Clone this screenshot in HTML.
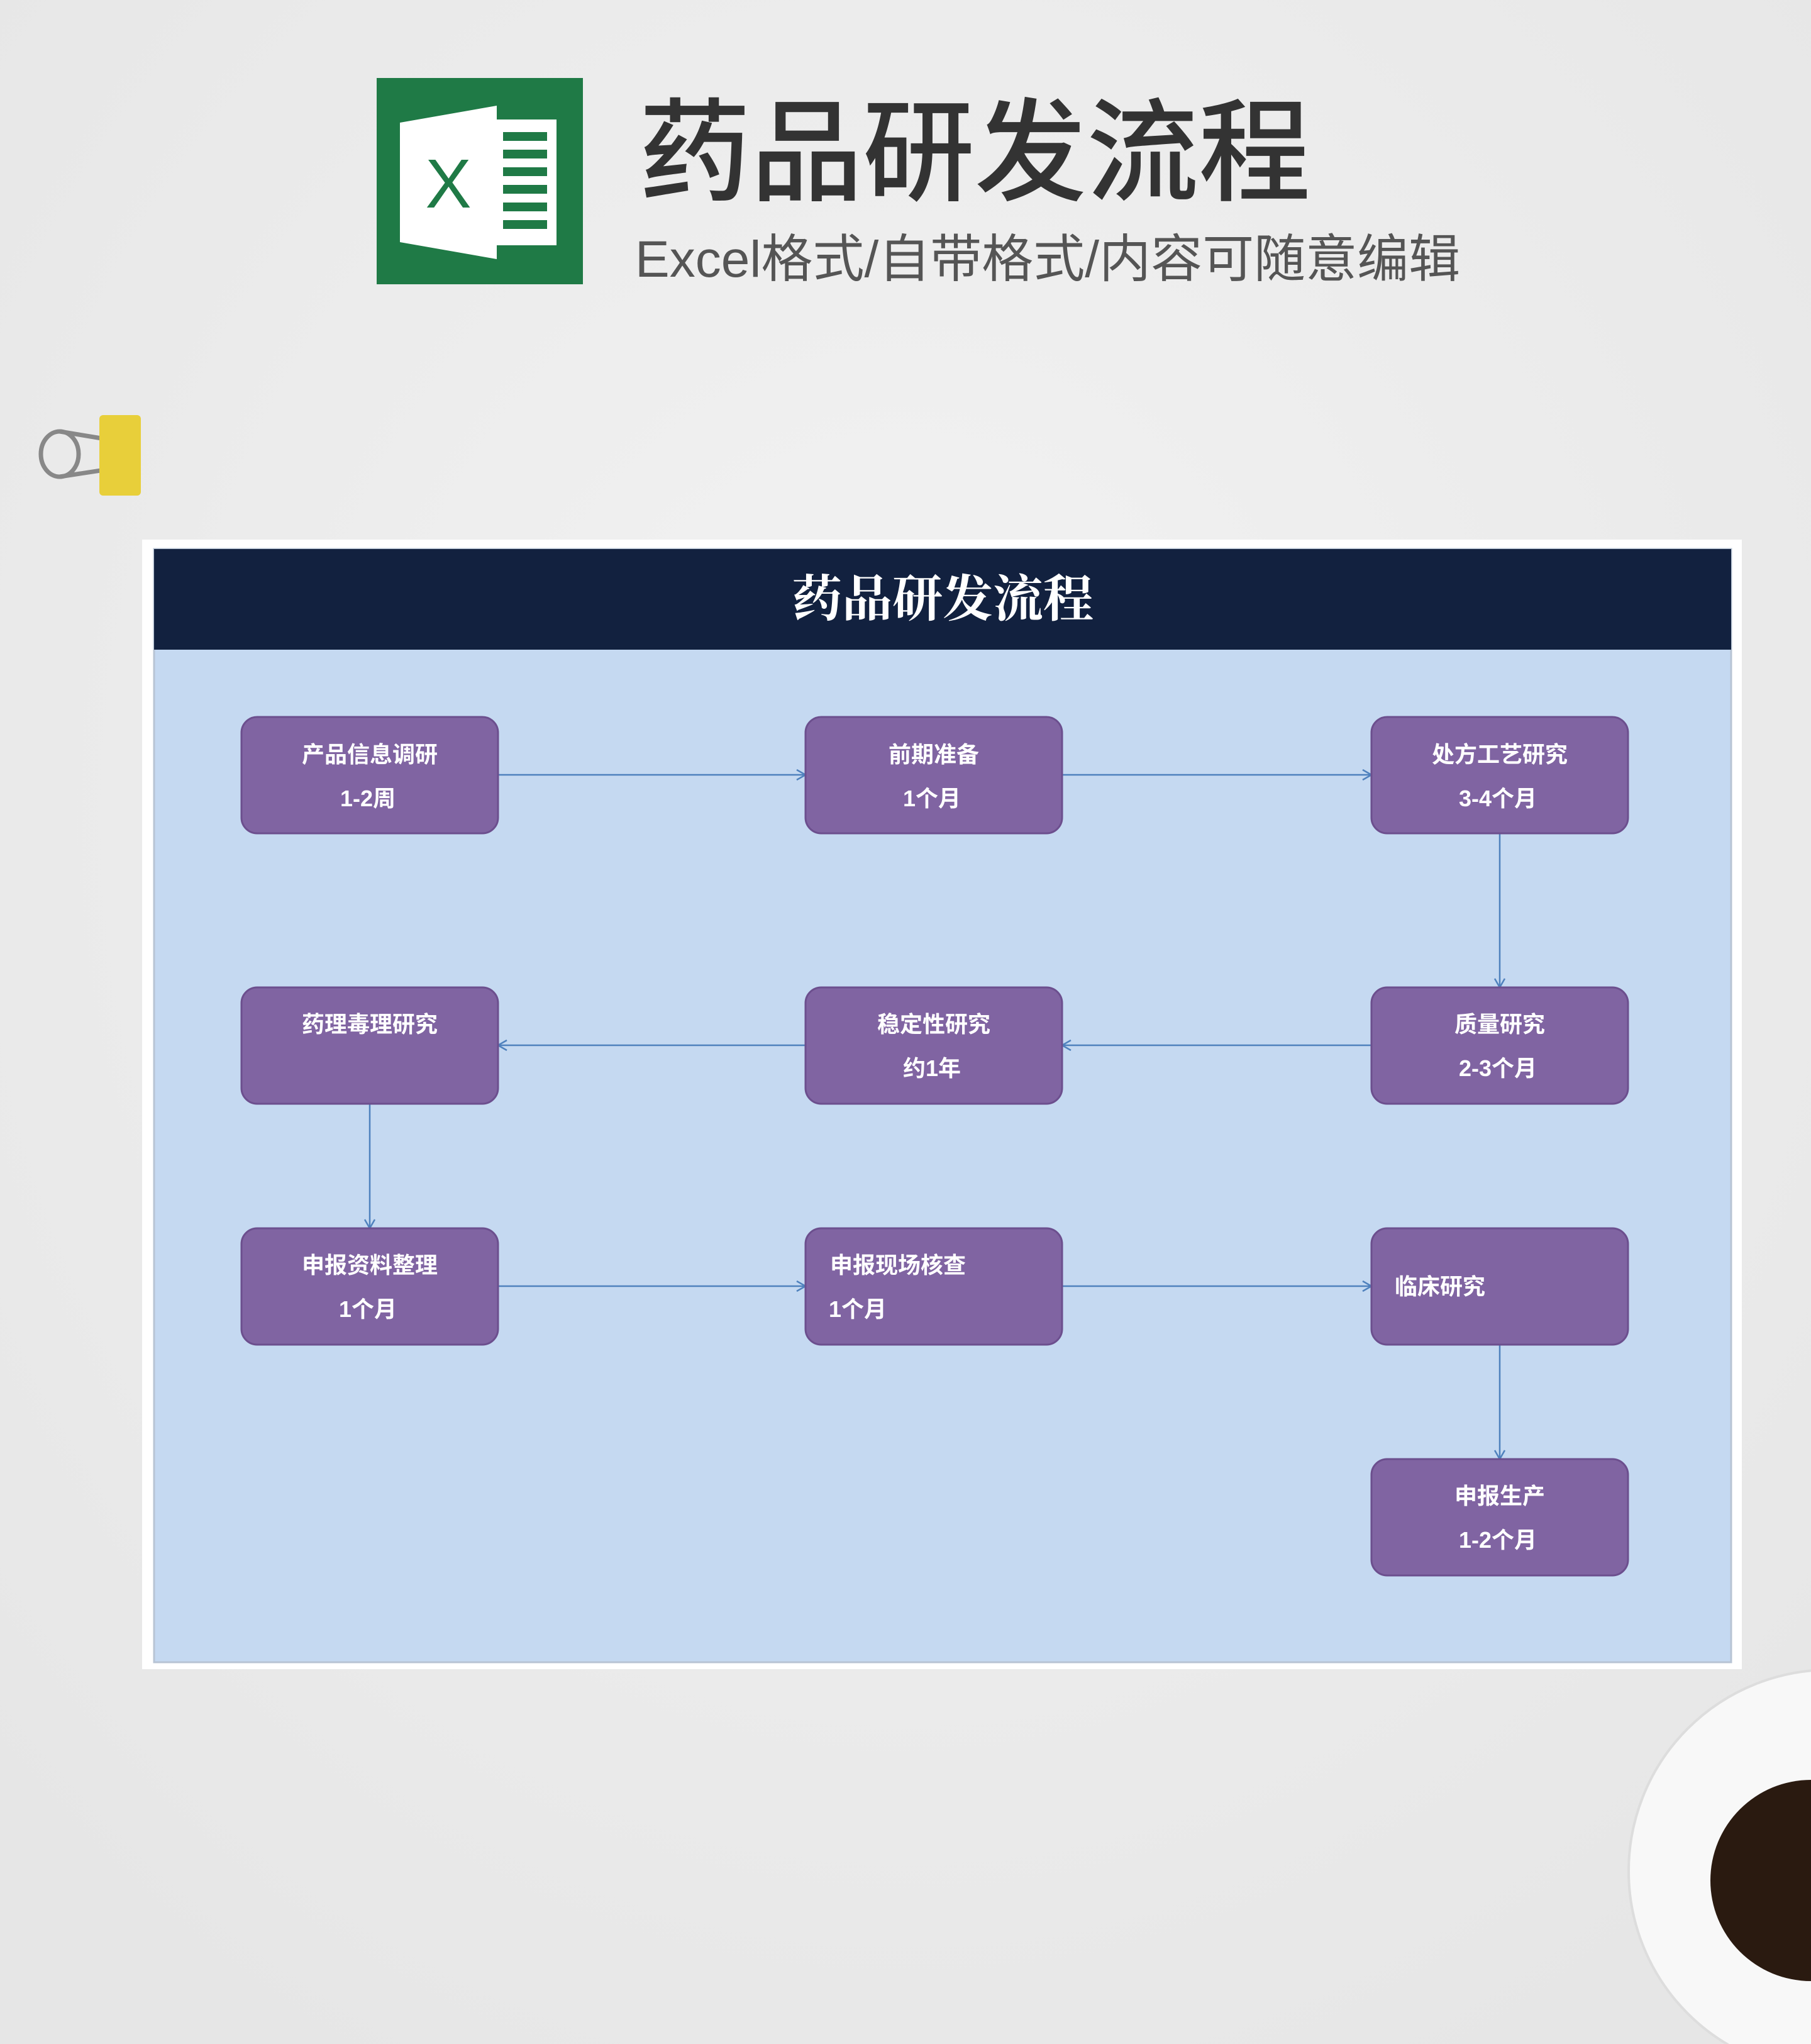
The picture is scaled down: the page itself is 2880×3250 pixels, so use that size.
<!DOCTYPE html>
<html><head><meta charset="utf-8"><style>
html,body{margin:0;padding:0;}
body{width:2880px;height:3250px;overflow:hidden;background:#eeeeee;}
svg{display:block;}
.t{font-family:"Liberation Sans","Noto Sans CJK SC",sans-serif;}
</style></head><body>
<svg width="2880" height="3250" viewBox="0 0 2880 3250" xmlns="http://www.w3.org/2000/svg">
<defs>
<radialGradient id="bg" cx="50%" cy="40%" r="70%">
<stop offset="0" stop-color="#f3f3f3"/><stop offset="1" stop-color="#e6e6e6"/>
</radialGradient>
<marker id="ah" markerWidth="20" markerHeight="20" refX="17" refY="10" orient="auto" markerUnits="userSpaceOnUse">
<path d="M3,2 L17,10 L3,18" fill="none" stroke="#4f81bd" stroke-width="2.5"/>
</marker>
</defs>
<rect width="2880" height="3250" fill="url(#bg)"/>
<rect x="599" y="124" width="328" height="328" fill="#1f7a46"/>
<rect x="770" y="190" width="115" height="200" fill="#fff"/>
<g fill="#1f7a46">
<rect x="800" y="210" width="70" height="14"/><rect x="800" y="238" width="70" height="14"/>
<rect x="800" y="266" width="70" height="14"/><rect x="800" y="294" width="70" height="14"/>
<rect x="800" y="322" width="70" height="14"/><rect x="800" y="350" width="70" height="14"/>
</g>
<polygon points="636,195 790,168 790,412 636,385" fill="#fff"/>
<text x="713" y="330" text-anchor="middle" class="t" font-size="110" fill="#1f7a46">X</text>
<text x="1016" y="305" class="t" font-size="178" font-weight="500" fill="#333">药品研发流程</text>
<text x="1010" y="440" class="t" font-size="82" fill="#555">Excel格式/自带格式/内容可随意编辑</text>
<g fill="none" stroke="#888" stroke-width="7">
<ellipse cx="95" cy="722" rx="30" ry="36"/><path d="M95,686 L180,700 M95,758 L180,745"/>
</g>
<rect x="158" y="660" width="66" height="128" rx="6" fill="#e8cf3a"/>
<circle cx="2910" cy="2975" r="320" fill="#f8f8f8" stroke="#ddd" stroke-width="4"/>
<circle cx="2880" cy="2990" r="160" fill="#2a1a10"/>
<rect x="226" y="858" width="2544" height="1796" fill="#fff"/>
<rect x="245" y="873" width="2508" height="1770" fill="#c5d9f1" stroke="#b8c4d4" stroke-width="3"/>
<rect x="245" y="873" width="2508" height="160" fill="#12213f"/>
<text x="1499" y="980" text-anchor="middle" font-family="'Liberation Serif','Noto Serif CJK SC',serif" font-weight="700" font-size="80" fill="#fff">药品研发流程</text>
<g stroke="#4f81bd" stroke-width="2.5" fill="none" marker-end="url(#ah)">
<line x1="792" y1="1232" x2="1281" y2="1232"/>
<line x1="1689" y1="1232" x2="2181" y2="1232"/>
<line x1="2385" y1="1325" x2="2385" y2="1570"/>
<line x1="2181" y1="1662" x2="1689" y2="1662"/>
<line x1="1281" y1="1662" x2="792" y2="1662"/>
<line x1="588" y1="1755" x2="588" y2="1953"/>
<line x1="792" y1="2045" x2="1281" y2="2045"/>
<line x1="1689" y1="2045" x2="2181" y2="2045"/>
<line x1="2385" y1="2138" x2="2385" y2="2320"/>
</g>
<g fill="#8064a2" stroke="#6c4f8e" stroke-width="3">
<rect x="384" y="1140" width="408" height="185" rx="25"/>
<rect x="1281" y="1140" width="408" height="185" rx="25"/>
<rect x="2181" y="1140" width="408" height="185" rx="25"/>
<rect x="384" y="1570" width="408" height="185" rx="25"/>
<rect x="1281" y="1570" width="408" height="185" rx="25"/>
<rect x="2181" y="1570" width="408" height="185" rx="25"/>
<rect x="384" y="1953" width="408" height="185" rx="25"/>
<rect x="1281" y="1953" width="408" height="185" rx="25"/>
<rect x="2181" y="1953" width="408" height="185" rx="25"/>
<rect x="2181" y="2320" width="408" height="185" rx="25"/>
</g>
<g class="t" font-size="36" font-weight="700" fill="#fff" text-anchor="middle">
<text x="588" y="1212">产品信息调研</text><text x="585" y="1282">1-2周</text>
<text x="1485" y="1212">前期准备</text><text x="1482" y="1282">1个月</text>
<text x="2385" y="1212">处方工艺研究</text><text x="2382" y="1282">3-4个月</text>
<text x="588" y="1641">药理毒理研究</text>
<text x="1485" y="1641">稳定性研究</text><text x="1482" y="1711">约1年</text>
<text x="2385" y="1641">质量研究</text><text x="2382" y="1711">2-3个月</text>
<text x="588" y="2024">申报资料整理</text><text x="585" y="2094">1个月</text>
<text x="2385" y="2391">申报生产</text><text x="2382" y="2461">1-2个月</text>
</g>
<g class="t" font-size="36" font-weight="700" fill="#fff">
<text x="1320" y="2024">申报现场核查</text><text x="1318" y="2094">1个月</text>
<text x="2218" y="2058">临床研究</text>
</g>
</svg>
</body></html>
